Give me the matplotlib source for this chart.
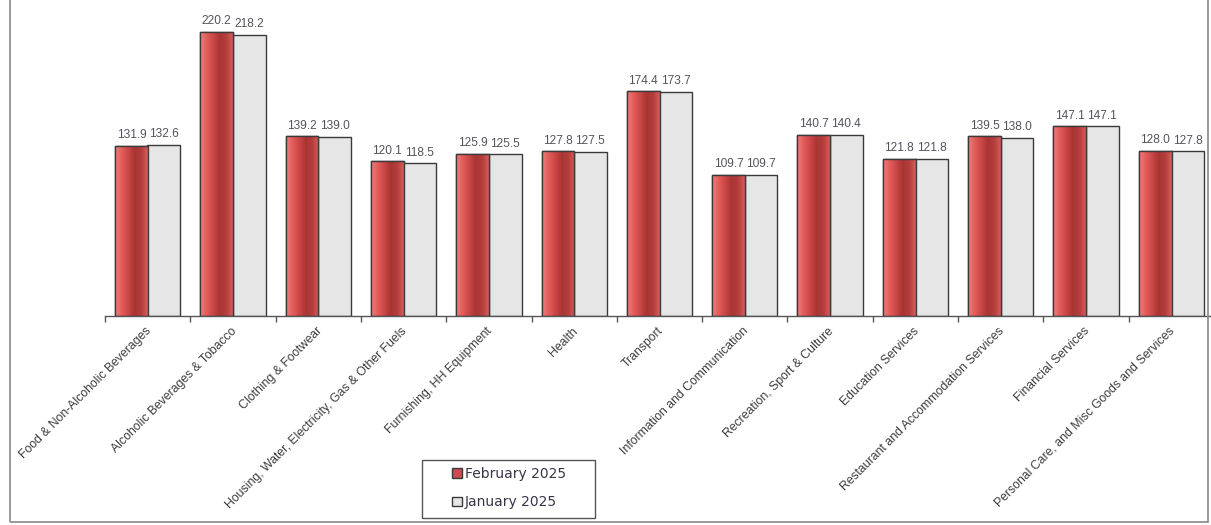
import numpy as np
import matplotlib
matplotlib.use("Agg")
import matplotlib.pyplot as plt
from matplotlib.colors import LinearSegmentedColormap
from matplotlib.patches import Patch, Rectangle

# categories and values
categories = [
    "Food & Non-Alcoholic Beverages",
    "Alcoholic Beverages & Tobacco",
    "Clothing & Footwear",
    "Housing, Water, Electricity, Gas & Other Fuels",
    "Furnishing, HH Equipment",
    "Health",
    "Transport",
    "Information and Communication",
    "Recreation, Sport & Culture",
    "Education Services",
    "Restaurant and Accommodation Services",
    "Financial Services",
    "Personal Care, and Misc Goods and Services",
]
feb_2025 = [131.9, 220.2, 139.2, 120.1, 125.9, 127.8, 174.4, 109.7, 140.7, 121.8, 139.5, 147.1, 128.0]
jan_2025 = [132.6, 218.2, 139.0, 118.5, 125.5, 127.5, 173.7, 109.7, 140.4, 121.8, 138.0, 147.1, 127.8]
series_names = ["February 2025", "January 2025"]

W, H = 1211, 525
fig = plt.figure(figsize=(W / 100, H / 100), dpi=100)
fig.patch.set_facecolor("white")

# plot area: x from 105px to ~1214px, baseline at y=316px
ax = fig.add_axes([105 / W, (H - 316) / H, 1109 / W, 316 / H])
ax.set_facecolor("none")

x = np.arange(len(categories))
bw = 0.385
off = 0.19

red_cmap = LinearSegmentedColormap.from_list(
    "redgrad", ["#f07e7c", "#e25c5a", "#cc4646", "#a93535", "#b43d3d", "#d45c5a"])

bars_feb = ax.bar(x - off, feb_2025, bw, color="#d04a48", edgecolor="#3a3a3a", linewidth=1.0, zorder=2)
bars_jan = ax.bar(x + off, jan_2025, bw, color="#e6e6e6", edgecolor="#3a3a3a", linewidth=1.0, zorder=2)

# horizontal gradient on the red bars
grad = np.linspace(0, 1, 64).reshape(1, -1)
for b in bars_feb:
    x0, y0 = b.get_x(), b.get_y()
    im = ax.imshow(grad, cmap=red_cmap, aspect="auto", zorder=2.5,
                   extent=[x0, x0 + b.get_width(), y0, y0 + b.get_height()])
    im.set_clip_path(b)
    ax.add_patch(Rectangle((x0, y0), b.get_width(), b.get_height(),
                           fill=False, edgecolor="#3a3a3a", linewidth=1.0, zorder=3))
ax.set_xlim(-0.5, len(categories) - 0.5)
ax.set_ylim(0, 245)

# value labels
for bars, vals in [(bars_feb, feb_2025), (bars_jan, jan_2025)]:
    for b, v in zip(bars, vals):
        ax.text(b.get_x() + b.get_width() / 2, v + 3.5, f"{v:.1f}",
                ha="center", va="bottom", fontsize=8.6, color="#55525e",
                family=["Liberation Sans", "DejaVu Sans"], zorder=4)

# axes styling
for s in ["top", "right", "left"]:
    ax.spines[s].set_visible(False)
ax.spines["bottom"].set_color("#555555")
ax.spines["bottom"].set_linewidth(1.0)
ax.set_yticks([])
ax.set_xticks(np.arange(len(categories) + 1) - 0.5)
ax.set_xticklabels([])
ax.tick_params(axis="x", length=4, color="#555555", width=1)
for xi, lab in zip(x, categories):
    ax.text(xi - 0.03, -7, lab, rotation=45, ha="right", va="top",
            rotation_mode="anchor", fontsize=8.8, color="#3c3c3c",
            family=["Liberation Sans", "DejaVu Sans"])

# legend (frame drawn separately to get the wide padding)
handles = [Patch(facecolor="#cc4a52", edgecolor="#3a3a3a"),
           Patch(facecolor="#e6e6e6", edgecolor="#3a3a3a")]
leg = fig.legend(handles, series_names, loc="center",
                 bbox_to_anchor=(509 / W, 1 - 488 / H),
                 prop={"family": "DejaVu Sans", "size": 10},
                 frameon=False,
                 handlelength=0.7, handleheight=0.7, handletextpad=0.25,
                 labelspacing=1.05, borderpad=0, borderaxespad=0)
for t in leg.get_texts():
    t.set_color("#3a3448")
fig.add_artist(Rectangle((422 / W, 1 - 518 / H), 173 / W, 58 / H, transform=fig.transFigure,
                         fill=False, edgecolor="#555555", linewidth=1.0))

# outer chart frame
fig.add_artist(Rectangle((10 / W, 3 / H), (1208 - 10) / W, 1.02, transform=fig.transFigure,
                         fill=False, edgecolor="#888888", linewidth=1.2))

fig.savefig("out.png", dpi=100)
